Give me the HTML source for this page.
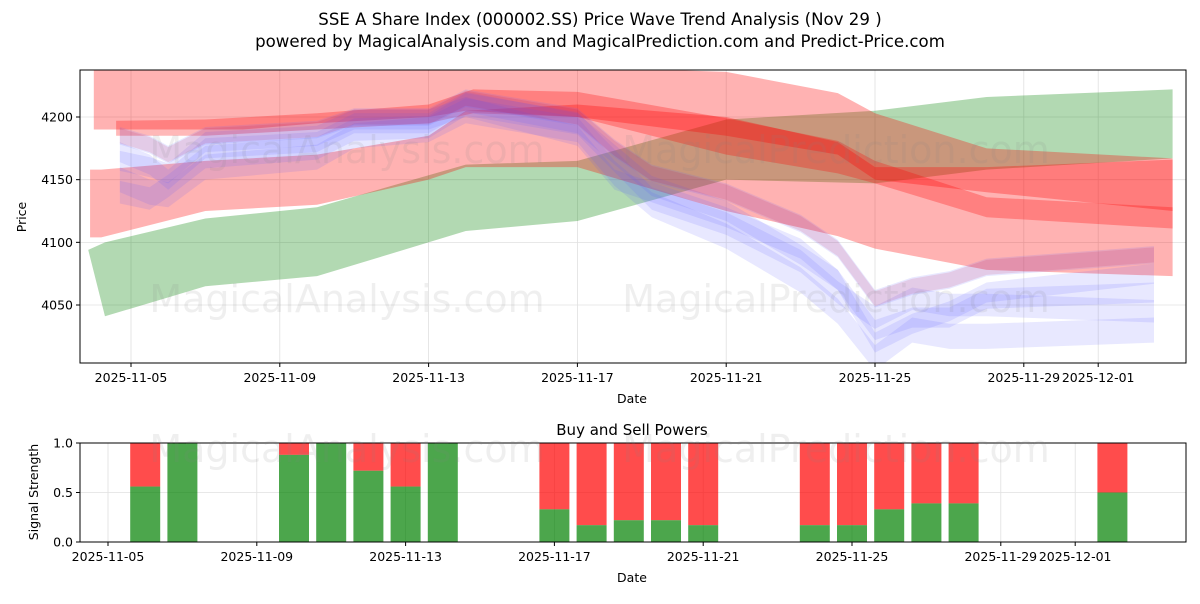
<!DOCTYPE html>
<html><head><meta charset="utf-8"><style>
body{margin:0;background:#fff;font-family:"DejaVu Sans","Liberation Sans",sans-serif;}
svg text{font-family:"DejaVu Sans","Liberation Sans",sans-serif;}
</style></head><body>
<svg id="c" width="1200" height="600" viewBox="0 0 1200 600" xmlns="http://www.w3.org/2000/svg"></svg>
<script>
// ---- data ----
const tickLabels=["2025-11-05","2025-11-09","2025-11-13","2025-11-17","2025-11-21","2025-11-25","2025-11-29","2025-12-01"];
const tickDays=[0,4,8,12,16,20,24,26];
const yTicks=[4050,4100,4150,4200];
const greenDays=[-1.15,-0.7,2,5,9,12,16,20,23,28];
const greenUp=[4094,4100,4119,4128,4162,4165,4198,4205,4216,4222];
const greenLo=[4094,4041,4065,4073,4109,4117,4150,4147,4158,4167];
const redADays=[-1,3,5,8,9,12,16,19,20,23,28];
const redAUp=[4240,4240,4240,4240,4240,4240,4236,4219,4203,4175,4167];
const redALo=[4190,4190,4195,4200,4205,4200,4185,4170,4150,4140,4125];
const redBDays=[-1.1,-0.8,2,5,8,9,12,16,19,20,23,28];
const redBUp=[4158,4158,4165,4170,4185,4205,4210,4200,4180,4160,4160,4166];
const redBLo=[4104,4104,4125,4130,4150,4160,4160,4125,4105,4095,4078,4073];
const redCDays=[-0.4,2,5,8,9.2,12,16,19,20,23,28];
const redCUp=[4197,4198,4203,4210,4222,4220,4199,4181,4165,4136,4128];
const redCLo=[4185,4185,4190,4195,4203,4200,4170,4155,4147,4120,4111];
const blueDays=[-0.3,0.5,1,2,5,6,8,9,12,13,14,16,18,19,20,21,22,23,27.5];
const blueA=[4172,4162,4150,4175,4180,4195,4195,4212,4195,4170,4145,4125,4090,4070,4030,4040,4040,4055,4060];
const blueB=[4185,4178,4170,4185,4190,4200,4200,4215,4200,4175,4155,4140,4115,4095,4055,4065,4070,4080,4090];
const blueC=[4150,4140,4138,4160,4168,4185,4190,4205,4190,4155,4130,4105,4070,4045,4008,4030,4025,4025,4030];
const blueD=[4165,4160,4155,4180,4185,4198,4198,4208,4185,4150,4140,4120,4095,4070,4020,4035,4045,4060,4075];
const blueE=[4140,4135,4145,4168,4175,4190,4192,4210,4195,4165,4135,4115,4085,4060,4040,4055,4050,4050,4045];
const barDays=[1,2,5,6,7,8,9,12,13,14,15,16,19,20,21,22,23,27];
const buyVals=[0.56,1.0,0.88,1.0,0.72,0.56,1.0,0.33,0.17,0.22,0.22,0.17,0.17,0.17,0.33,0.39,0.39,0.5];

const svg=document.getElementById('c');
const NS='http://www.w3.org/2000/svg';
function el(t,a,p){const e=document.createElementNS(NS,t);for(const k in a)e.setAttribute(k,a[k]);(p||svg).appendChild(e);return e;}
const X=d=>131+d*37.2, Y=v=>117+(4200-v)*62.67/50;
const X2=d=>108+d*37.2, Y2=v=>542-v*99;

function txt(x,y,s,opt,name){const t=el('text',Object.assign({x:x,y:y,'font-size':12.5,fill:'#000'},opt||{}));t.textContent=s;

return t;}

txt(600,25,"SSE A Share Index (000002.SS) Price Wave Trend Analysis (Nov 29 )",{'font-size':16.6,'text-anchor':'middle'},'chart-title');
txt(600,47,"powered by MagicalAnalysis.com and MagicalPrediction.com and Predict-Price.com",{'font-size':16.6,'text-anchor':'middle'},'chart-subtitle');

const g1=el('g',{});


const clip=el('clipPath',{id:'cp'});el('rect',{x:80,y:70,width:1106,height:293},clip);
tickDays.forEach(d=>el('line',{x1:X(d),x2:X(d),y1:70,y2:363,stroke:'#e0e0e0','stroke-width':0.8},g1));
yTicks.forEach(v=>el('line',{x1:80,x2:1186,y1:Y(v),y2:Y(v),stroke:'#e0e0e0','stroke-width':0.8},g1));
const gb=el('g',{'clip-path':'url(#cp)'},g1);
function band(days,up,lo,fill,name){
  let p=days.map((d,i)=>X(d)+','+Y(up[i]));
  for(let i=days.length-1;i>=0;i--)p.push(X(days[i])+','+Y(lo[i]));
  const e=el('polygon',{points:p.join(' '),fill:fill},gb);
  
  
}
band(greenDays,greenUp,greenLo,'rgba(0,128,0,0.3)','green-band');
band(redADays,redAUp,redALo,'rgba(255,0,0,0.3)','red-band-upper');
band(redBDays,redBUp,redBLo,'rgba(255,0,0,0.3)','red-band-lower');
band(redCDays,redCUp,redCLo,'rgba(255,0,0,0.28)','red-band-stripe');
[blueA,blueB,blueC,blueD,blueE].forEach((s,k)=>{
  const hw=[8,7,10,8,9][k];
  band(blueDays,s.map(v=>v+hw),s.map(v=>v-hw),'rgba(90,90,255,0.14)','blue-band-'+(k+1));
});
band(blueDays,blueB.map(v=>v+6),blueB.map(v=>v-6),'rgba(200,0,60,0.12)','purple-band');
['MagicalAnalysis.com','MagicalPrediction.com'].forEach((s,i)=>{
  txt(i?836:347,163,s,{'font-size':38,fill:'rgba(128,128,128,0.13)','text-anchor':'middle'},'watermark');
  txt(i?836:347,312,s,{'font-size':38,fill:'rgba(128,128,128,0.13)','text-anchor':'middle'},'watermark');
});
el('rect',{x:80,y:70,width:1106,height:293,fill:'none',stroke:'#000','stroke-width':1},g1);
tickDays.forEach((d,i)=>{el('line',{x1:X(d),x2:X(d),y1:363,y2:367,stroke:'#000'},g1);txt(X(d),382,tickLabels[i],{'text-anchor':'middle'},'x-tick-label');});
yTicks.forEach(v=>{el('line',{x1:76,x2:80,y1:Y(v),y2:Y(v),stroke:'#000'},g1);txt(73,Y(v)+4.5,String(v),{'text-anchor':'end'},'y-tick-label');});
txt(632,403,'Date',{'text-anchor':'middle'},'x-axis-title');
txt(26,217,'Price',{'text-anchor':'middle',transform:'rotate(-90 26 217)'},'y-axis-title');

txt(632,435,'Buy and Sell Powers',{'font-size':15,'text-anchor':'middle'},'bar-chart-title');
const g2=el('g',{});


tickDays.forEach(d=>el('line',{x1:X2(d),x2:X2(d),y1:443,y2:542,stroke:'#e0e0e0','stroke-width':0.8},g2));
[0,0.5,1].forEach(v=>el('line',{x1:80,x2:1186,y1:Y2(v),y2:Y2(v),stroke:'#e0e0e0','stroke-width':0.8},g2));
barDays.forEach((d,i)=>{
  const r=el('rect',{x:X2(d)-15,y:Y2(1),width:30,height:Y2(buyVals[i])-Y2(1),fill:'rgba(255,0,0,0.7)'},g2);
  
  
  const b=el('rect',{x:X2(d)-15,y:Y2(buyVals[i]),width:30,height:Y2(0)-Y2(buyVals[i]),fill:'rgba(0,128,0,0.7)'},g2);
  
  
});
txt(347,462,'MagicalAnalysis.com',{'font-size':38,fill:'rgba(128,128,128,0.13)','text-anchor':'middle'},'watermark');
txt(836,462,'MagicalPrediction.com',{'font-size':38,fill:'rgba(128,128,128,0.13)','text-anchor':'middle'},'watermark');
el('rect',{x:80,y:443,width:1106,height:99,fill:'none',stroke:'#000'},g2);
tickDays.forEach((d,i)=>{el('line',{x1:X2(d),x2:X2(d),y1:542,y2:546,stroke:'#000'},g2);txt(X2(d),561,tickLabels[i],{'text-anchor':'middle'},'x-tick-label');});
[0,0.5,1].forEach(v=>{el('line',{x1:76,x2:80,y1:Y2(v),y2:Y2(v),stroke:'#000'},g2);txt(73,Y2(v)+4.5,v.toFixed(1),{'text-anchor':'end'},'y-tick-label');});
txt(632,582,'Date',{'text-anchor':'middle'},'x-axis-title');
txt(38,492,'Signal Strength',{'text-anchor':'middle',transform:'rotate(-90 38 492)'},'y-axis-title');
</script>
</body></html>
